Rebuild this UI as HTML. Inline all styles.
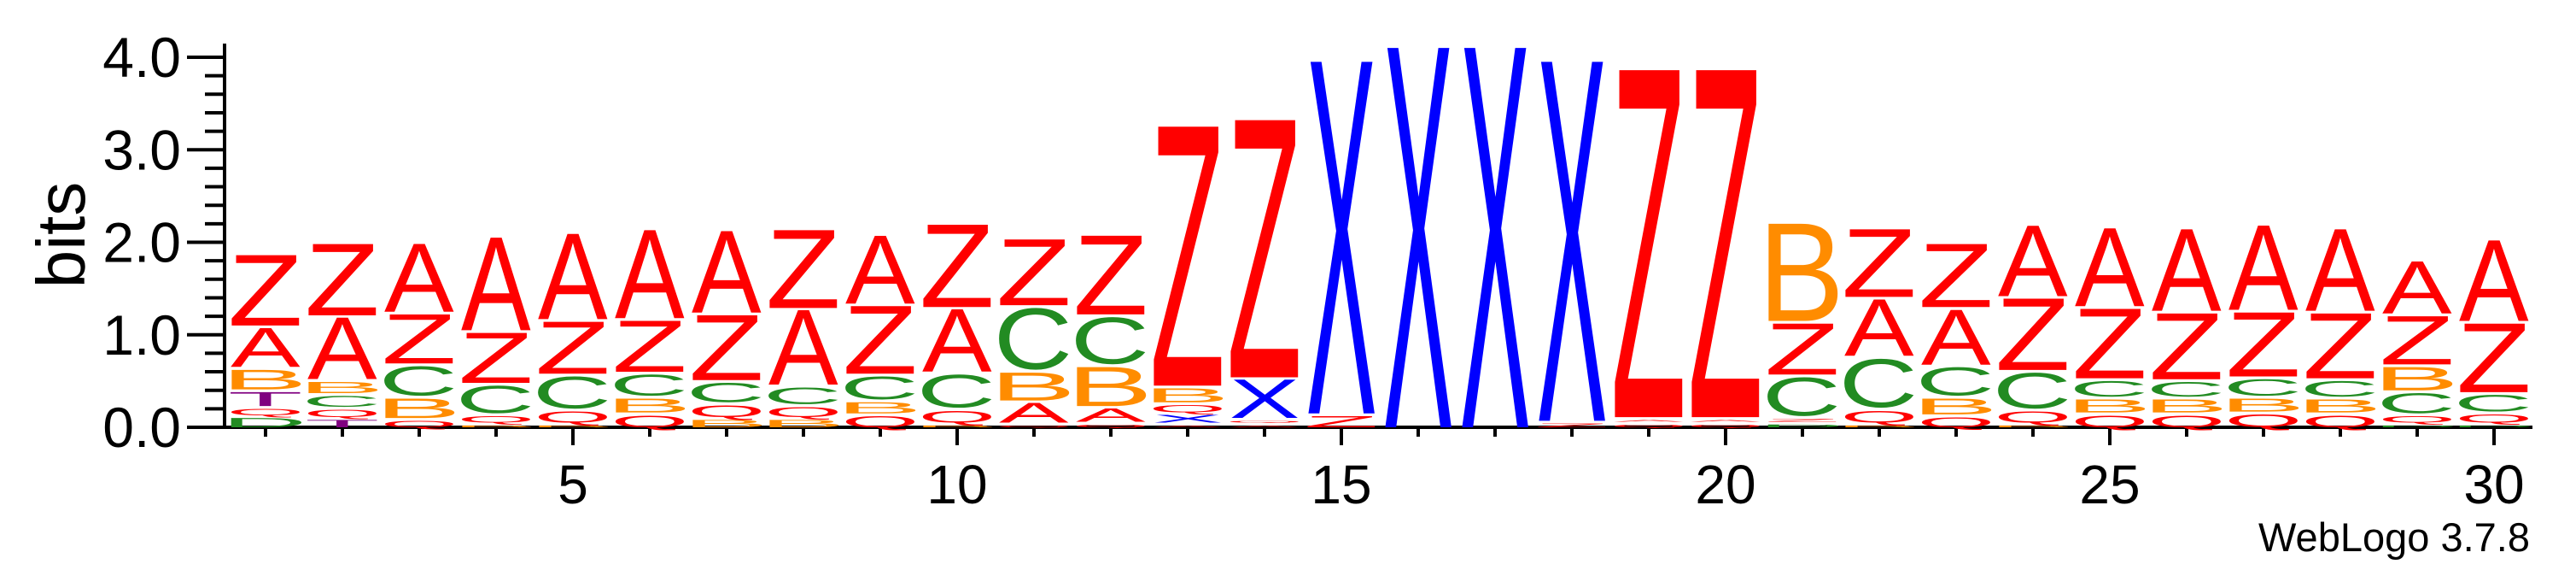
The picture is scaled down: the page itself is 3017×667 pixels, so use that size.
<!DOCTYPE html>
<html><head><meta charset="utf-8"><style>
html,body{margin:0;padding:0;background:#fff;}
svg{display:block;font-family:"Liberation Sans",Arial,sans-serif;}
</style></head><body>
<svg id="chart" width="3017" height="667" viewBox="0 0 3017 667" xmlns="http://www.w3.org/2000/svg">
<g id="axes"></g>
<g id="stacks"></g>
<text transform="translate(99,275) rotate(-90)" text-anchor="middle" font-size="80">bits</text>
<text x="2963" y="645" text-anchor="end" font-size="47">WebLogo 3.7.8</text>
</svg>
<script>
// Data: letters (bottom to top) and their heights in bits per position
const positions = [1,2,3,4,5,6,7,8,9,10,11,12,13,14,15,16,17,18,19,20,21,22,23,24,25,26,27,28,29,30];
const stackLetters = ["DQTBAZ","TQCBAZ","QBCZA","BQCZA","BQCZA","QBCZA","BQCZA","BQCAZ","QBCZA","BQCAZ",
  "QABCZ","QABCZ","AXQBZ","AQXZ","ZX","X","X","ZX","QAZ","QAZ",
  "DZCZB","BQCAZ","QBCAZ","BQCZA","QBCZA","QBCZA","QBCZA","QBCZA","DQCBZA","DQCZA"];
const stackHeights = [
  [0.1,0.07,0.15,0.21,0.42,0.76],
  [0.08,0.08,0.12,0.12,0.66,0.77],
  [0.07,0.21,0.32,0.53,0.73],
  [0.02,0.07,0.30,0.54,1.0],
  [0.02,0.12,0.35,0.56,0.92],
  [0.13,0.15,0.23,0.55,0.95],
  [0.08,0.13,0.21,0.70,0.88],
  [0.08,0.11,0.18,0.80,0.84],
  [0.12,0.12,0.25,0.73,0.73],
  [0.02,0.13,0.36,0.67,0.89],
  [0.02,0.21,0.30,0.67,0.71],
  [0.03,0.14,0.42,0.51,0.85],
  [0.02,0.08,0.08,0.15,2.80],
  [0.02,0.02,0.41,2.78],
  [0.12,3.80],
  [4.10],
  [4.10],
  [0.04,3.88],
  [0.03,0.02,3.75],
  [0.03,0.02,3.75],
  [0.03,0.03,0.42,0.55,1.05],
  [0.02,0.13,0.53,0.61,0.73],
  [0.11,0.17,0.31,0.59,0.68],
  [0.02,0.12,0.39,0.77,0.76],
  [0.13,0.14,0.17,0.75,0.84],
  [0.13,0.14,0.16,0.71,0.88],
  [0.14,0.14,0.18,0.69,0.91],
  [0.13,0.14,0.17,0.70,0.88],
  [0.02,0.07,0.22,0.25,0.52,0.56],
  [0.02,0.09,0.18,0.74,0.87]
];
const yTicks = [0,1,2,3,4];
const yTickLabels = ["0.0","1.0","2.0","3.0","4.0"];
const xTickLabels = [5,10,15,20,25,30];

const NS = "http://www.w3.org/2000/svg";
const X0 = 311, DX = 90, COLW = 82, Y0 = 500, BIT = 108.25;
function xPos(p){ return X0 + (p-1)*DX; }
function yPos(b){ return Y0 - b*BIT; }
const colors = {A:"#ff0000",Z:"#ff0000",Q:"#ff0000",B:"#ff8c00",C:"#228b22",D:"#228b22",X:"#0000ff",T:"#800080"};
const ink = {A:[0,67],B:[7.3,54],C:[5,64],Z:[2.2,57],X:[0.3,66],Q:[4,70],T:[2.2,57],D:[7.7,59]};
const capH = {A:68.8,B:68.8,C:71,Z:68.8,X:68.8,Q:71,T:68.8,D:68.8};

const axes = document.getElementById('axes');
function mk(tag, attrs, parent){ const e=document.createElementNS(NS,tag); for(const k in attrs) e.setAttribute(k,attrs[k]); parent.appendChild(e); return e; }

let yl = mk('line',{x1:263,y1:51,x2:263,y2:502,stroke:"#000","stroke-width":4},axes);


let xl = mk('line',{x1:261,y1:500,x2:2966,y2:500,stroke:"#000","stroke-width":4},axes);


for(let i=0;i<=20;i++){
  const b=i*0.2, major=(i%5===0);
  const t=mk('line',{x1:major?219:240,y1:yPos(b),x2:263,y2:yPos(b),stroke:"#000","stroke-width":4},axes);
  
  
}
yTicks.forEach((v,i)=>{
  const t=mk('text',{x:212,y:yPos(v)+23,"text-anchor":"end","font-size":66},axes);
  t.textContent=yTickLabels[i];
  
  
});
positions.forEach(p=>{
  const major = p%5===0;
  const t=mk('line',{x1:xPos(p),y1:500,x2:xPos(p),y2:major?521:511,stroke:"#000","stroke-width":4},axes);
  
  
});
xTickLabels.forEach(v=>{
  const t=mk('text',{x:xPos(v),y:589,"text-anchor":"middle","font-size":64},axes);
  t.textContent=String(v);
  
  
});

const stacks = document.getElementById('stacks');
const GAP = 0.03;
positions.forEach((p,ci)=>{
  const g=mk('g',{},stacks);
  
  
  let cum=0;
  const L=stackLetters[ci], H=stackHeights[ci];
  for(let k=0;k<L.length;k++){
    const ch=L[k], h=H[k];
    const ybot=yPos(cum), hp=h*BIT;
    const sx=COLW/ink[ch][1], sy=hp/capH[ch];
    const yoff = (ch==='C'||ch==='Q') ? -1.2 : 0;
    const t=mk('text',{x:-ink[ch][0],y:yoff,"font-size":100,fill:colors[ch],
      transform:`translate(${xPos(p)-COLW/2},${ybot}) scale(${sx},${sy})`},g);
    t.textContent=ch;
    
    
    cum+=h+GAP;
  }
});
</script>
</body></html>
